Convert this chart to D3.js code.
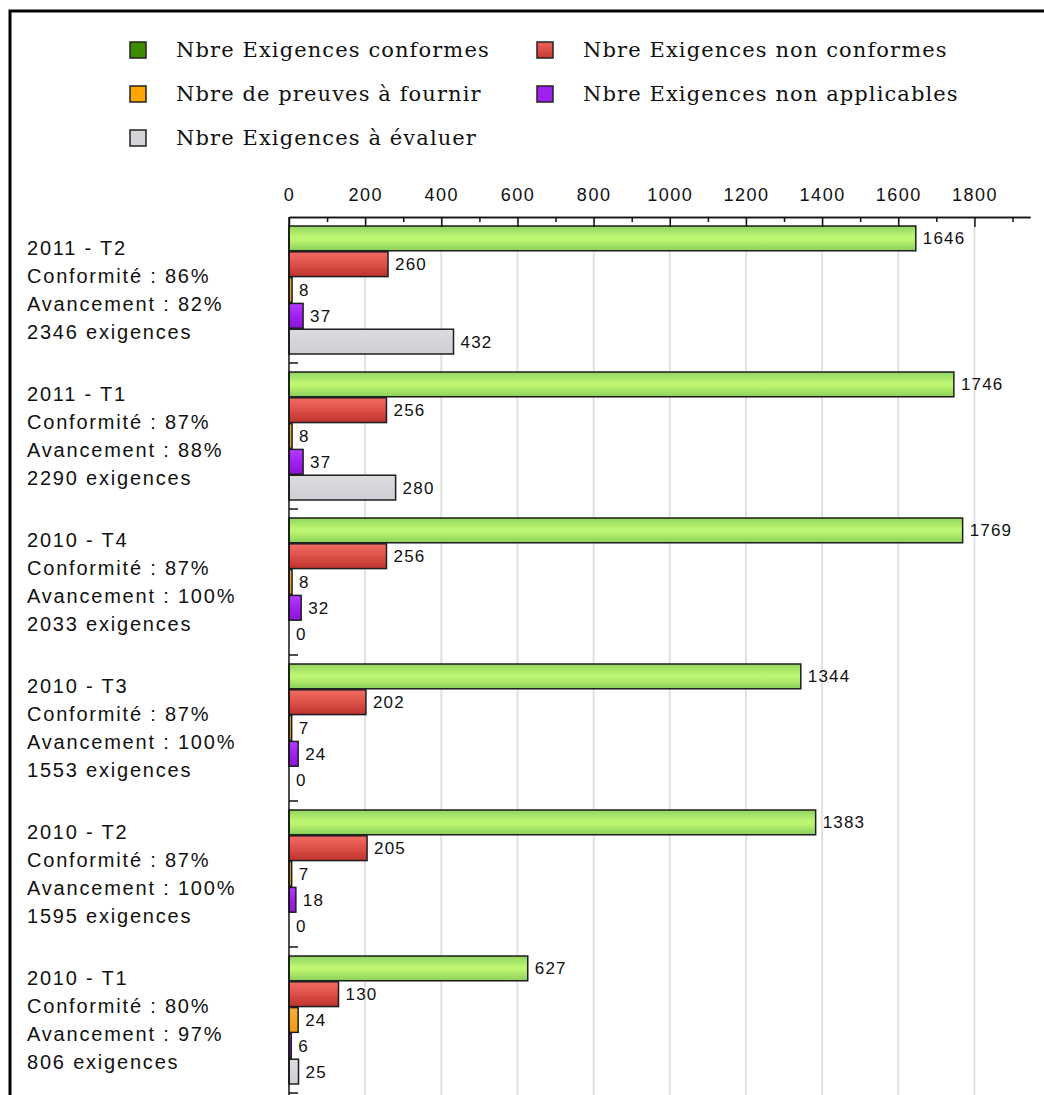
<!DOCTYPE html>
<html>
<head>
<meta charset="utf-8">
<script src="https://cdn.jsdelivr.net/npm/d3@7"></script>
<style>
  html, body { margin: 0; padding: 0; background: #fff; overflow: hidden; }
  svg { display: block; }
</style>
</head>
<body>
<svg id="chart" width="1044" height="1095"></svg>
<script>
// Quarterly compliance review: requirement counts per assessment period
const categories = ["2011 - T2", "2011 - T1", "2010 - T4", "2010 - T3", "2010 - T2", "2010 - T1"];
const conformite = [86, 87, 87, 87, 87, 80];
const avancement = [82, 88, 100, 100, 100, 97];
const totalExigences = [2346, 2290, 2033, 1553, 1595, 806];

const conformes      = [1646, 1746, 1769, 1344, 1383, 627];
const nonConformes   = [260, 256, 256, 202, 205, 130];
const preuves        = [8, 8, 8, 7, 7, 24];
const nonApplicables = [37, 37, 32, 24, 18, 6];
const aEvaluer       = [432, 280, 0, 0, 0, 25];

const seriesNames = [
  "Nbre Exigences conformes",
  "Nbre Exigences non conformes",
  "Nbre de preuves à fournir",
  "Nbre Exigences non applicables",
  "Nbre Exigences à évaluer"
];
const seriesValues = [conformes, nonConformes, preuves, nonApplicables, aEvaluer];
const seriesKeys = ["conf", "nonconf", "preuves", "nonapp", "eval"];

const majorTicks = [0, 200, 400, 600, 800, 1000, 1200, 1400, 1600, 1800];
const minorTicks = [100, 300, 500, 700, 900, 1100, 1300, 1500, 1700, 1900];

const svg = d3.select("#chart");
const defs = svg.append("defs");

function vGrad(id, stops) {
  const g = defs.append("linearGradient").attr("id", id)
    .attr("x1", 0).attr("y1", 0).attr("x2", 0).attr("y2", 1);
  stops.forEach(([o, c]) => g.append("stop").attr("offset", o).attr("stop-color", c));
}
vGrad("g-conf", [[0, "#8fd45e"], [0.45, "#bff774"], [0.6, "#b8f26e"], [1, "#8acf5a"]]);
vGrad("g-nonconf", [[0, "#f26d64"], [0.5, "#de5048"], [1, "#bd332d"]]);
vGrad("g-preuves", [[0, "#f8b23a"], [1, "#ef9a10"]]);
vGrad("g-nonapp", [[0, "#b43cff"], [0.5, "#a020f0"], [1, "#8c14d6"]]);
vGrad("g-eval", [[0, "#dcdbe0"], [1, "#cfced4"]]);
vGrad("l-nonconf", [[0, "#ee6058"], [1, "#c83a34"]]);

const barFill = {
  conf: "url(#g-conf)", nonconf: "url(#g-nonconf)", preuves: "url(#g-preuves)",
  nonapp: "url(#g-nonapp)", eval: "url(#g-eval)"
};
const legendFill = {
  conf: "#3c8c00", nonconf: "url(#l-nonconf)", preuves: "#ffa500",
  nonapp: "#a020f0", eval: "#d4d4d8"
};

// Outer frame
svg.append("rect")
  .attr("x", 10).attr("y", 11).attr("width", 1200).attr("height", 1200)
  .attr("fill", "none").attr("stroke", "#000").attr("stroke-width", 3);

// Legend: two columns, row-major
const legend = svg.append("g").attr("class", "legend");
seriesNames.forEach((name, i) => {
  const col = i % 2, row = Math.floor(i / 2);
  const g = legend.append("g")
    .attr("transform", `translate(${col === 0 ? 130 : 537},${50 + row * 44})`);
  g.append("rect")
    .attr("x", 0).attr("y", -8).attr("width", 16).attr("height", 16)
    .attr("fill", legendFill[seriesKeys[i]])
    .attr("stroke", "#222").attr("stroke-width", 1.5);
  g.append("text")
    .attr("x", 46).attr("y", 0).attr("dy", "0.35em")
    .attr("font-family", "'DejaVu Serif', serif")
    .attr("font-size", 21).attr("letter-spacing", 1.1)
    .attr("fill", "#111")
    .text(name);
});

// Scales
const plotTop = 217, plotBottom = 1093, plotLeft = 289;
const allValues = seriesValues.flat();
const x = d3.scaleLinear()
  .domain([0, d3.max(allValues) * 1.1])
  .range([plotLeft, 1030]);
const yGroup = d3.scaleBand().domain(categories).range([plotTop, plotBottom]);
const ySeries = d3.scaleBand().domain(seriesKeys).range([9, 137]).paddingInner(0.04);

// Vertical gridlines at labelled ticks
svg.append("g").selectAll("line")
  .data(majorTicks.filter(t => t > 0))
  .join("line")
  .attr("x1", d => x(d)).attr("x2", d => x(d))
  .attr("y1", plotTop).attr("y2", 1095)
  .attr("stroke", "#e1e1e1").attr("stroke-width", 2);

// Bars
const groups = svg.append("g").selectAll("g")
  .data(categories)
  .join("g")
  .attr("transform", d => `translate(0,${yGroup(d)})`);

seriesKeys.forEach((key, si) => {
  groups.append("rect")
    .attr("x", x(0))
    .attr("y", ySeries(key))
    .attr("width", (d, ci) => x(seriesValues[si][ci]) - x(0))
    .attr("height", ySeries.bandwidth())
    .attr("fill", barFill[key])
    .attr("stroke", "#1e1e1e").attr("stroke-width", 1.5);
  groups.append("text")
    .attr("x", (d, ci) => x(seriesValues[si][ci]) + 7)
    .attr("y", ySeries(key) + ySeries.bandwidth() / 2)
    .attr("dy", "0.35em")
    .attr("font-family", "'Liberation Sans', Arial, sans-serif")
    .attr("font-size", 17).attr("letter-spacing", 1.2)
    .attr("fill", "#111")
    .text((d, ci) => seriesValues[si][ci]);
});

// Top axis: labelled major ticks and short minor ticks, pointing into the plot
const axisMajor = d3.axisTop(x).tickValues(majorTicks)
  .tickSizeInner(-10).tickSizeOuter(0).tickPadding(16).tickFormat(d3.format("d"));
const axisMinor = d3.axisTop(x).tickValues(minorTicks)
  .tickSizeInner(-5).tickSizeOuter(0).tickFormat("");

const gMinor = svg.append("g").attr("transform", `translate(0,${plotTop})`).call(axisMinor);
const gMajor = svg.append("g").attr("transform", `translate(0,${plotTop})`).call(axisMajor);
[gMinor, gMajor].forEach(g => {
  g.selectAll("path, line").attr("stroke", "#111").attr("stroke-width", 1.5);
});
gMajor.selectAll("text")
  .attr("font-family", "'Liberation Sans', Arial, sans-serif")
  .attr("font-size", 18).attr("letter-spacing", 1.5)
  .attr("fill", "#111");

// Left category axis with boundary ticks
svg.append("line")
  .attr("x1", plotLeft).attr("x2", plotLeft)
  .attr("y1", plotTop).attr("y2", 1095)
  .attr("stroke", "#111").attr("stroke-width", 1.5);
svg.append("g").selectAll("line")
  .data(categories)
  .join("line")
  .attr("x1", plotLeft).attr("x2", plotLeft + 9)
  .attr("y1", d => yGroup(d) + yGroup.bandwidth())
  .attr("y2", d => yGroup(d) + yGroup.bandwidth())
  .attr("stroke", "#111").attr("stroke-width", 1.5);

// Multi-line category labels, centred on each group
const lineGap = 28;
categories.forEach((c, i) => {
  const lines = [
    c,
    `Conformité : ${conformite[i]}%`,
    `Avancement : ${avancement[i]}%`,
    `${totalExigences[i]} exigences`
  ];
  const cy = yGroup(c) + yGroup.bandwidth() / 2;
  const t = svg.append("text")
    .attr("font-family", "'Liberation Sans', Arial, sans-serif")
    .attr("font-size", 20).attr("letter-spacing", 1.8)
    .attr("fill", "#111");
  lines.forEach((ln, k) => {
    t.append("tspan")
      .attr("x", 27)
      .attr("y", cy + (k - (lines.length - 1) / 2) * lineGap)
      .attr("dy", "0.35em")
      .text(ln);
  });
});
</script>
</body>
</html>
